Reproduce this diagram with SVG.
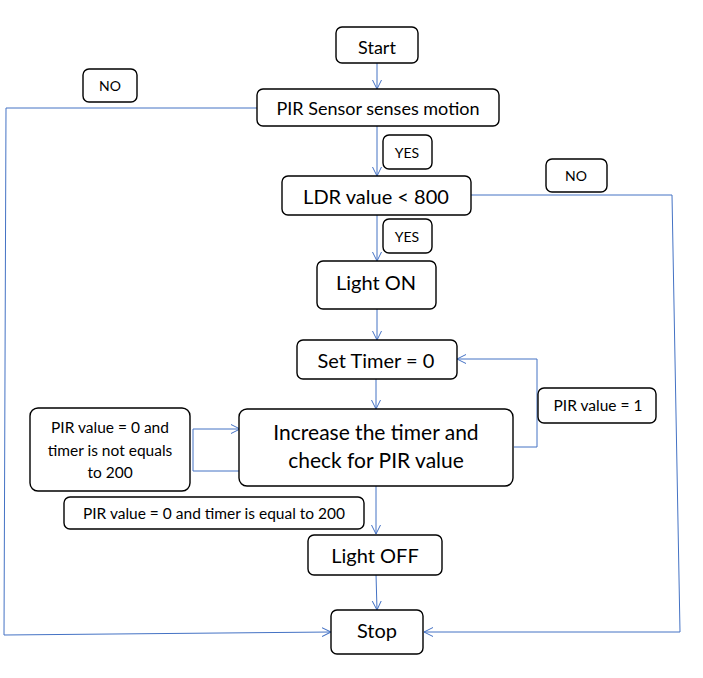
<svg xmlns="http://www.w3.org/2000/svg" width="703" height="678" viewBox="0 0 703 678">
<style>
.box{fill:#fff;stroke:#000;stroke-width:1.4}
.t{font-family:Lato,"Liberation Sans",sans-serif;fill:#000;text-anchor:middle}
.big{font-size:20px}
.mid{font-size:18px}
.sm{font-size:14px}
.lb{font-size:15.5px}
.c{fill:none;stroke:#4472C4;stroke-width:1}
</style>
<defs>
<marker id="a" markerUnits="userSpaceOnUse" markerWidth="12" markerHeight="12" refX="9" refY="5" orient="auto">
<path d="M0,0.5 L9,5 L0,9.5" fill="none" stroke="#4472C4" stroke-width="1"/>
</marker>
</defs>
<rect width="703" height="678" fill="#fff"/>
<g id="connectors">
<line class="c" x1="377" y1="63" x2="377" y2="89" marker-end="url(#a)"/>
<line class="c" x1="377" y1="126" x2="377" y2="176" marker-end="url(#a)"/>
<line class="c" x1="377" y1="215" x2="377" y2="261" marker-end="url(#a)"/>
<line class="c" x1="377" y1="309" x2="377" y2="340" marker-end="url(#a)"/>
<line class="c" x1="376" y1="379" x2="376" y2="409" marker-end="url(#a)"/>
<line class="c" x1="376" y1="486" x2="376" y2="534" marker-end="url(#a)"/>
<line class="c" x1="376" y1="574" x2="377" y2="610" marker-end="url(#a)"/>
<polyline class="c" points="257,108 6,108 4,635 331,632" marker-end="url(#a)"/>
<polyline class="c" points="471,195 672,195 680,632 424,632" marker-end="url(#a)"/>
<polyline class="c" points="514,447 537,447 537,359 457,359" marker-end="url(#a)"/>
<polyline class="c" points="240,471 193,471 193,429 240,429" marker-end="url(#a)"/>
</g>
<g id="start"><rect class="box" x="336" y="27" width="82" height="36" rx="6"/><text class="t mid" x="377" y="54">Start</text></g>
<g id="pir"><rect class="box" x="257" y="89" width="242" height="37" rx="6"/><text class="t mid" x="378" y="115">PIR Sensor senses motion</text></g>
<g id="no1"><rect class="box" x="83" y="69" width="54" height="33" rx="6"/><text class="t sm" x="110" y="91">NO</text></g>
<g id="yes1"><rect class="box" x="383" y="135" width="49" height="34" rx="6"/><text class="t sm" x="407" y="158">YES</text></g>
<g id="ldr"><rect class="box" x="282" y="176" width="189" height="39" rx="6"/><text class="t big" x="376" y="204">LDR value &lt; 800</text></g>
<g id="no2"><rect class="box" x="546" y="159" width="61" height="33" rx="6"/><text class="t sm" x="576" y="181">NO</text></g>
<g id="yes2"><rect class="box" x="383" y="219" width="49" height="34" rx="6"/><text class="t sm" x="407" y="242">YES</text></g>
<g id="lighton"><rect class="box" x="317" y="261" width="119" height="48" rx="6"/><text class="t big" x="376" y="290">Light ON</text></g>
<g id="settimer"><rect class="box" x="297" y="340" width="160" height="39" rx="6"/><text class="t big" x="376" y="368">Set Timer = 0</text></g>
<g id="pir1"><rect class="box" x="538" y="388" width="118" height="35" rx="6"/><text class="t lb" x="598" y="411">PIR value = 1</text></g>
<g id="increase"><rect class="box" x="239" y="409" width="274" height="77" rx="8"/><text class="t big" x="376" y="440" style="font-size:21px">Increase the timer and</text><text class="t big" x="376" y="468" style="font-size:21px">check for PIR value</text></g>
<g id="notequal"><rect class="box" x="30" y="408" width="160" height="83" rx="8"/><text class="t lb" x="110" y="433">PIR value = 0 and</text><text class="t lb" x="110" y="456">timer is not equals</text><text class="t lb" x="110" y="478">to 200</text></g>
<g id="equal"><rect class="box" x="64" y="497" width="300" height="32" rx="6"/><text class="t lb" x="214" y="519">PIR value = 0 and timer is equal to 200</text></g>
<g id="lightoff"><rect class="box" x="308" y="535" width="134" height="40" rx="6"/><text class="t big" x="375" y="563">Light OFF</text></g>
<g id="stop"><rect class="box" x="331" y="610" width="92" height="44" rx="6"/><text class="t big" x="377" y="638">Stop</text></g>
</svg>
